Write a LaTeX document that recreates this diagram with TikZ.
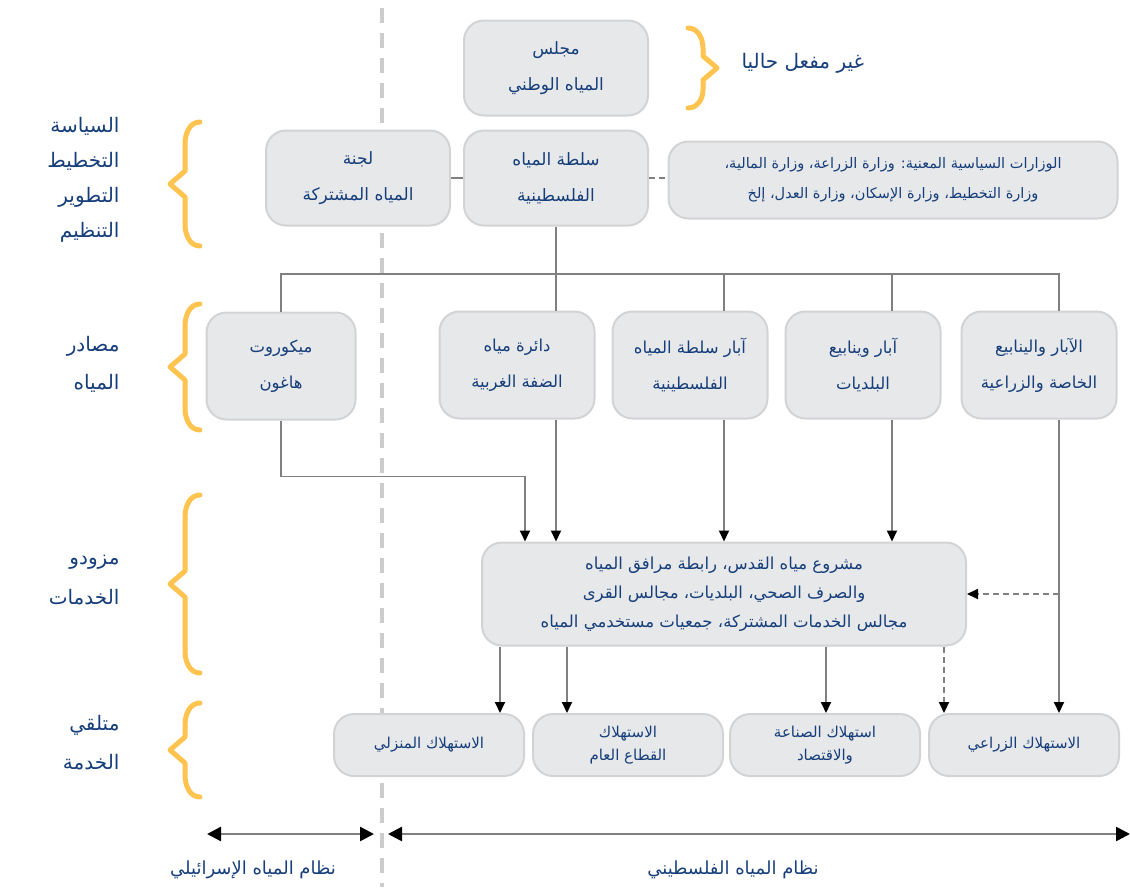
\documentclass[tikz,border=0pt]{standalone}
\usepackage{fontspec}
\newfontfamily\arabicfont[Script=Arabic]{DejaVu Sans}
\TeXXeTstate=1
\usetikzlibrary{arrows.meta}
\definecolor{txtblue}{RGB}{22,62,122}
\definecolor{boxfill}{RGB}{231,232,234}
\definecolor{boxline}{RGB}{210,211,213}
\definecolor{linegray}{RGB}{128,128,128}
\definecolor{braceyellow}{RGB}{255,195,80}
\newcommand{\ar}[1]{\beginR #1\endR}
\tikzset{
  box/.style={draw=boxline, line width=2pt, fill=boxfill, rounded corners=20pt,
    align=center, inner sep=0pt, text=txtblue},
  topbox/.style={box, minimum width=184pt, minimum height=95pt,
    font=\arabicfont\fontsize{17}{36}\selectfont},
  srcbox/.style={box, minimum width=155pt, minimum height=107pt,
    font=\arabicfont\fontsize{16.5}{36}\selectfont},
  usebox/.style={box, minimum width=190pt, minimum height=62pt,
    font=\arabicfont\fontsize{15}{23}\selectfont},
  sidelabel/.style={anchor=east, align=right, text=txtblue,
    font=\arabicfont\fontsize{20}{36}\selectfont},
  link/.style={draw=linegray, line width=1.8pt},
  arr/.style={link, -{Triangle[length=11pt, width=10pt, color=black]}},
  dashlink/.style={dash pattern=on 6pt off 4pt},
  brace/.style={draw=braceyellow, line width=5pt, line cap=round, line join=round},
  divider/.style={draw=black!20, line width=4pt, dash pattern=on 15pt off 10pt}
}
\begin{document}
\begin{tikzpicture}[x=1pt, y=-1pt]
      \useasboundingbox (0,0) rectangle (1130,887);
      % Israeli / Palestinian divide
      \draw[divider] (382,8) -- (382,887);

      % policy level
      \node[topbox] (council) at (556,68) {\ar{مجلس}\\\ar{المياه الوطني}};
      \node[sidelabel, anchor=west] (inactive) at (738,63) {\ar{غير مفعل حاليا}};
      \node[topbox] (jwc) at (358,178) {\ar{لجنة}\\\ar{المياه المشتركة}};
      \node[topbox] (pwa) at (556,178) {\ar{سلطة المياه}\\\ar{الفلسطينية}};
      \node[box, minimum width=449pt, minimum height=77pt,
        font=\arabicfont\fontsize{14.5}{30}\selectfont] (mins) at (893,180)
        {\ar{الوزارات السياسية المعنية: وزارة الزراعة، وزارة المالية،}\\
         \ar{وزارة التخطيط، وزارة الإسكان، وزارة العدل، إلخ}};

      % water sources
      \node[srcbox, minimum width=149pt] (mek) at (281,366) {\ar{ميكوروت}\\\ar{هاغون}};
      \node[srcbox] (wbwd) at (517,365) {\ar{دائرة مياه}\\\ar{الضفة الغربية}};
      \node[srcbox] (pwaw) at (690,365) {\ar{آبار سلطة المياه}\\\ar{الفلسطينية}};
      \node[srcbox] (muni) at (863,365) {\ar{آبار وينابيع}\\\ar{البلديات}};
      \node[srcbox] (priv) at (1039,365) {\ar{الآبار والينابيع}\\\ar{الخاصة والزراعية}};

      % service providers
      \node[box, minimum width=484pt, minimum height=103pt,
        font=\arabicfont\fontsize{16.5}{29}\selectfont] (svc) at (724,594)
        {\ar{مشروع مياه القدس، رابطة مرافق المياه}\\
         \ar{والصرف الصحي، البلديات، مجالس القرى}\\
         \ar{مجالس الخدمات المشتركة، جمعيات مستخدمي المياه}};

      % service users
      \node[usebox] (home) at (429,745) {\ar{الاستهلاك المنزلي}};
      \node[usebox] (pub) at (628,745) {\ar{الاستهلاك}\\\ar{القطاع العام}};
      \node[usebox] (ind) at (825,745) {\ar{استهلاك الصناعة}\\\ar{والاقتصاد}};
      \node[usebox] (agr) at (1024,745) {\ar{الاستهلاك الزراعي}};

      % side labels
      \node[sidelabel, font=\arabicfont\fontsize{20}{35}\selectfont] (lpolicy) at (123,180)
        {\ar{السياسة}\\\ar{التخطيط}\\\ar{التطوير}\\\ar{التنظيم}};
      \node[sidelabel, font=\arabicfont\fontsize{20}{38}\selectfont] (lsource) at (123,364) {\ar{مصادر}\\\ar{المياه}};
      \node[sidelabel, font=\arabicfont\fontsize{20}{40}\selectfont] (lprov) at (123,580) {\ar{مزودو}\\\ar{الخدمات}};
      \node[sidelabel, font=\arabicfont\fontsize{20}{39}\selectfont] (luser) at (123,743) {\ar{متلقي}\\\ar{الخدمة}};

      % braces
      \draw[brace] (688,28) to[out=0,in=90] (703,48) -- (703,56) -- (717,68)
        -- (703,80) -- (703,90) to[out=-90,in=0] (688,108);
      \foreach \t/\b in {122/246, 304/430, 495/673, 703/797}
        \draw[brace] (200,\t) to[out=180,in=90] (185,\t+22) -- (185,{(\t+\b)/2-13})
          -- (170,{(\t+\b)/2}) -- (185,{(\t+\b)/2+13}) -- (185,\b-22)
          to[out=-90,in=180] (200,\b);

      % policy links
      \draw[link] (jwc) -- (pwa);
      \draw[link, dashlink] (pwa.east) -- (pwa.east -| mins.west);
      \coordinate (busR) at (1059,274);
      \draw[link] (pwa.south) -- (pwa.south |- wbwd.north);
      \draw[link] (mek.north) |- (busR) -- ([xshift=20pt]priv.north);
      \draw[link] ([xshift=34pt]pwaw.north) -- ([xshift=34pt]pwaw.north |- busR);
      \draw[link] ([xshift=29pt]muni.north) -- ([xshift=29pt]muni.north |- busR);

      % sources to providers
      \begin{scope}[arr]
        \draw (mek.south) -- ++(0,56) -| ([xshift=-199pt]svc.north);
        \draw ([xshift=39pt]wbwd.south) -- ([xshift=39pt]wbwd.south |- svc.north);
        \draw ([xshift=34pt]pwaw.south) -- ([xshift=34pt]pwaw.south |- svc.north);
        \draw ([xshift=29pt]muni.south) -- ([xshift=29pt]muni.south |- svc.north);
        \draw ([xshift=20pt]priv.south) -- ([xshift=20pt]priv.south |- agr.north);
        \draw[dashlink] ([xshift=20pt]priv.south |- svc.east) -- (svc.east);
      \end{scope}

      % providers to users
      \begin{scope}[arr]
        \draw ([xshift=-224pt]svc.south) -- ([xshift=-224pt]svc.south |- home.north);
        \draw ([xshift=-157pt]svc.south) -- ([xshift=-157pt]svc.south |- pub.north);
        \draw ([xshift=102pt]svc.south) -- ([xshift=102pt]svc.south |- ind.north);
        \draw[dashlink] ([xshift=220pt]svc.south) -- ([xshift=220pt]svc.south |- agr.north);
      \end{scope}

      % water systems
      \coordinate (isrL) at (207,834);
      \coordinate (isrR) at (374,834);
      \coordinate (palL) at (388,834);
      \coordinate (palR) at (1130,834);
      \begin{scope}[link, line width=2.5pt, {Triangle[length=14pt, width=14pt, color=black]}-{Triangle[length=14pt, width=14pt, color=black]}]
        \draw (isrL) -- (isrR);
        \draw (palL) -- (palR);
      \end{scope}
      \node[text=txtblue, font=\arabicfont\fontsize{18}{20}\selectfont] (isr) at (253,870) {\ar{نظام المياه الإسرائيلي}};
      \node[text=txtblue, font=\arabicfont\fontsize{18}{20}\selectfont] (pal) at (733,870) {\ar{نظام المياه الفلسطيني}};
    \end{tikzpicture}
\end{document}
